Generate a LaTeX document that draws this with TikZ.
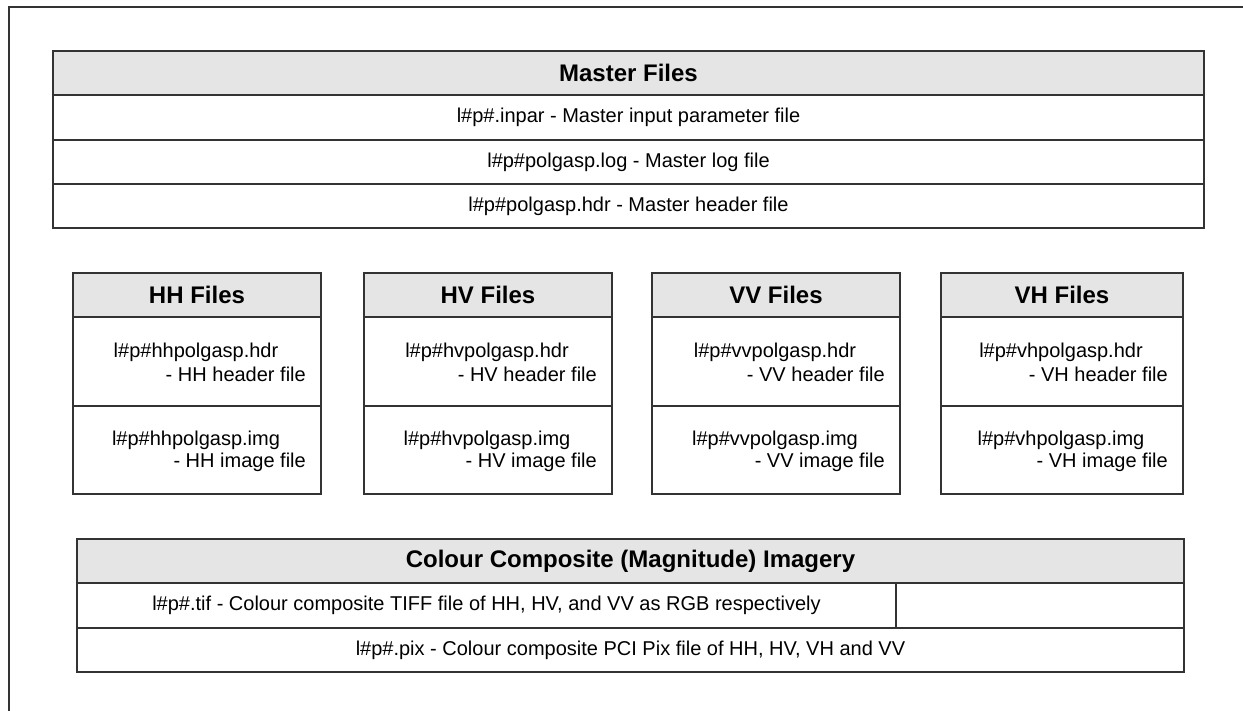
\documentclass[tikz,border=0pt]{standalone}
\usepackage{fontspec}
\setmainfont{Liberation Sans}
\usetikzlibrary{positioning}

\tikzset{
  frm/.style={draw=black!80, line width=1.2pt},
  cell/.style={frm, fill=white, inner sep=0pt, outer sep=0pt, font=\fontsize{20}{23}\selectfont},
  head/.style={cell, fill=black!10, font=\bfseries\fontsize{24}{28}\selectfont},
  txt/.style={inner sep=0pt, font=\fontsize{20}{23}\selectfont},
}

\begin{document}
\begin{tikzpicture}[x=1pt,y=-1pt]
\useasboundingbox (0,0) rectangle (1243,711);
\draw[frm] (9,711) -- (9,7) -- (1243,7);

% master files
\node[head, anchor=north west, minimum width=1151, minimum height=44] (master) at (53,51) {Master Files};
\node[cell, below=0pt of master, minimum width=1151, minimum height=45] (inpar) {l\#p\#.inpar - Master input parameter file};
\node[cell, below=0pt of inpar, minimum width=1151, minimum height=44] (log) {l\#p\#polgasp.log - Master log file};
\node[cell, below=0pt of log, minimum width=1151, minimum height=44] (mhdr) {l\#p\#polgasp.hdr - Master header file};

% one box per polarisation
\foreach \nm/\lc/\xl/\xr in {HH/hh/73/321, HV/hv/364/612, VV/vv/652/900, VH/vh/941/1183}{
  \pgfmathsetmacro\bw{\xr-\xl}
  \node[head, anchor=north west, minimum width=\bw, minimum height=44] (\lc) at (\xl,273) {\nm{} Files};
  \node[cell, below=0pt of \lc, minimum width=\bw, minimum height=89] (\lc-hdr) {};
  \node[cell, below=0pt of \lc-hdr, minimum width=\bw, minimum height=88] (\lc-img) {};
  \node[txt] (\lc-hdr1) at ([xshift=-1pt,yshift=-35pt]\lc-hdr.north) {l\#p\#\lc polgasp.hdr};
  \node[txt, anchor=east] (\lc-hdr2) at ([xshift=-15pt,yshift=-57pt]\lc-hdr.north east) {- \nm{} header file};
  \node[txt] (\lc-img1) at ([xshift=-1pt,yshift=-34pt]\lc-img.north) {l\#p\#\lc polgasp.img};
  \node[txt, anchor=east] (\lc-img2) at ([xshift=-15pt,yshift=-56pt]\lc-img.north east) {- \nm{} image file};
}

% colour composites
\node[head, anchor=north west, minimum width=1107, minimum height=44] (comp) at (77,539) {Colour Composite (Magnitude) Imagery};
\node[cell, anchor=north west, minimum width=819, minimum height=45] (tif) at (comp.south west) {l\#p\#.tif - Colour composite TIFF file of HH, HV, and VV as RGB respectively};
\node[cell, anchor=north west, minimum width=288, minimum height=45] (tifpad) at (tif.north east) {};
\node[cell, anchor=north west, minimum width=1107, minimum height=44] (pix) at (tif.south west) {l\#p\#.pix - Colour composite PCI Pix file of HH, HV, VH and VV};
\end{tikzpicture}
\end{document}
